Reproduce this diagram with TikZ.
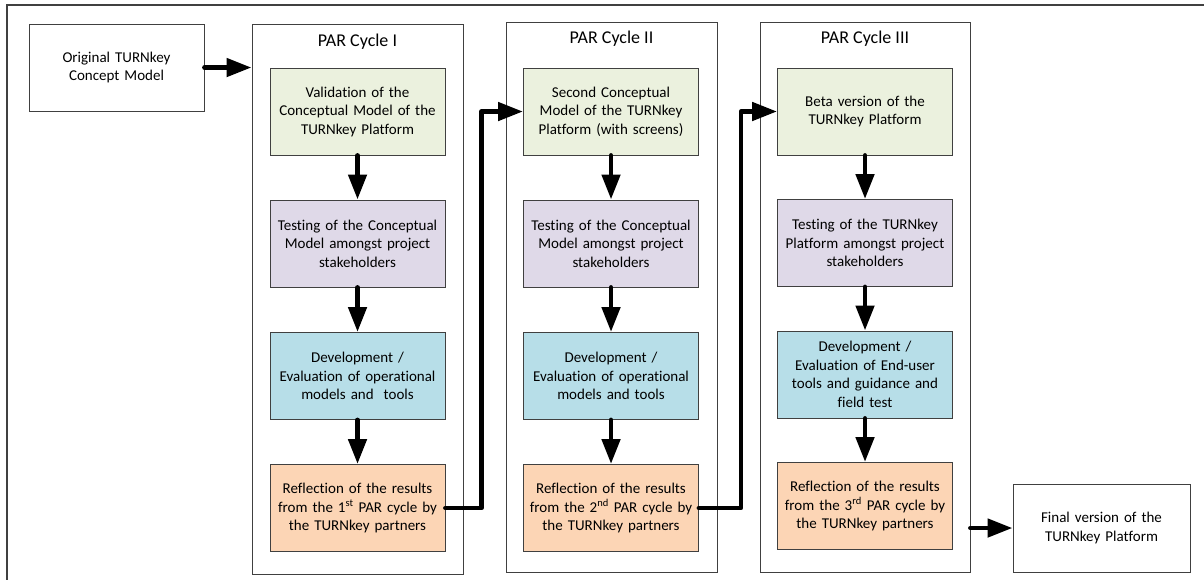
\documentclass[tikz,border=0pt]{standalone}
\usepackage{fontspec}
\setmainfont{Carlito}[Ligatures=NoCommon]
\usetikzlibrary{arrows.meta}
\definecolor{cgreen}{HTML}{EBF1DE}
\definecolor{cpurple}{HTML}{DFD9E8}
\definecolor{cblue}{HTML}{B7DEE8}
\definecolor{corange}{HTML}{FCD5B5}
\definecolor{cedge}{HTML}{404040}
\tikzset{
  stagebox/.style={draw=cedge, line width=1pt, minimum width=175pt, minimum height=87pt,
    inner sep=0pt, text width=168pt, align=center,
    font=\fontsize{15}{18.5}\selectfont},
  plainbox/.style={stagebox, fill=white},
  cyclebox/.style={draw=cedge, line width=1pt, minimum width=211pt, minimum height=550pt, inner sep=0pt},
  cycletitle/.style={font=\fontsize{18}{22}\selectfont, inner sep=0pt},
  flow/.style={line width=4.8pt, -{Triangle[width=18pt,length=25pt]}, line cap=round, line join=round}
}
\begin{document}
\begin{tikzpicture}[x=1pt,y=1pt]
\useasboundingbox (0,0) rectangle (1204,-579);
% outer frame (clipped at right and bottom)
\draw[cedge, line width=1.3pt] (7,-590) -- (7,-5) -- (1215,-5);

% cycle containers
\node[cyclebox] (cI) at (357.5,-299) {};
\node[cyclebox] (cII) at (611.5,-297) {};
\node[cyclebox, minimum width=210pt] (cIII) at (865,-297) {};
\node[cycletitle] (tI) at (357.5,-42) {PAR Cycle I};
\node[cycletitle] (tII) at (611.5,-39) {PAR Cycle II};
\node[cycletitle] (tIII) at (865,-39) {PAR Cycle III};

% start / end
\node[plainbox] (orig) at (116.5,-67.5) {Original TURNkey\\Concept Model};
\node[plainbox, minimum width=177pt, minimum height=88pt] (fin) at (1101.5,-528) {Final version of the\\TURNkey Platform};

% cycle I
\node[stagebox, fill=cgreen] (gI) at (357.5,-111.5) {Validation of the\\Conceptual Model of the\\TURNkey Platform};
\node[stagebox, fill=cpurple] (pI) at (357.5,-243.5) {Testing of the Conceptual\\Model amongst project\\stakeholders};
\node[stagebox, fill=cblue] (bI) at (357.5,-376) {Development /\\Evaluation of operational\\models and\ \ tools};
\node[stagebox, fill=corange] (oI) at (357.5,-508) {Reflection of the results\\from the 1\textsuperscript{st} PAR cycle by\\the TURNkey partners};

% cycle II
\node[stagebox, fill=cgreen] (gII) at (611,-111.5) {Second Conceptual\\Model of the TURNkey\\Platform (with screens)};
\node[stagebox, fill=cpurple] (pII) at (611,-243.5) {Testing of the Conceptual\\Model amongst project\\stakeholders};
\node[stagebox, fill=cblue] (bII) at (611,-376) {Development /\\Evaluation of operational\\models and tools};
\node[stagebox, fill=corange] (oII) at (611,-508) {Reflection of the results\\from the 2\textsuperscript{nd} PAR cycle by\\the TURNkey partners};

% cycle III
\node[stagebox, fill=cgreen] (gIII) at (865,-111.5) {Beta version of the\\TURNkey Platform};
\node[stagebox, fill=cpurple] (pIII) at (865,-243) {Testing of the TURNkey\\Platform amongst project\\stakeholders};
\node[stagebox, fill=cblue] (bIII) at (865,-374.5) {Development /\\Evaluation of End-user\\tools and guidance and\\field test};
\node[stagebox, fill=corange] (oIII) at (865,-506) {Reflection of the results\\from the 3\textsuperscript{rd} PAR cycle by\\the TURNkey partners};

% arrows
\draw[flow] (orig.east) -- (cI.west |- orig.east);
\foreach \c in {I,II,III}{
  \draw[flow] (g\c.south) -- (p\c.north);
  \draw[flow] (p\c.south) -- (b\c.north);
  \draw[flow] (b\c.south) -- (o\c.north);
}
\draw[flow] (oI.east) -- ++(36,0) |- (gII.west);
\draw[flow] (oII.east) -- ++(42,0) |- (gIII.west);
\draw[flow] (cIII.east |- fin.west) -- (fin.west);
\end{tikzpicture}
\end{document}
